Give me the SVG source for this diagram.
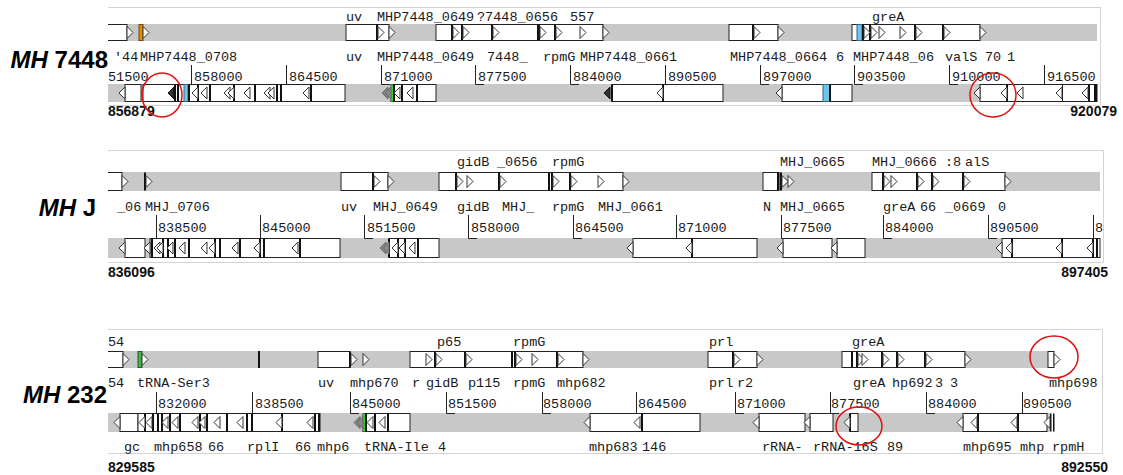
<svg xmlns="http://www.w3.org/2000/svg" xmlns:xlink="http://www.w3.org/1999/xlink" width="1123" height="475" viewBox="0 0 1123 475">
<style>
.bg{fill:#fff}
.fr{stroke:#d4d4d4;stroke-width:1;fill:none}
.trk{fill:#c8c8c8}
.g{fill:#fff;stroke:#222;stroke-width:1}
.th{fill:#111}
.ch{fill:#fff;stroke:#333;stroke-width:1}
.chd{fill:#333;stroke:#111;stroke-width:1}
.chg{fill:#888;stroke:#666;stroke-width:1}
.tk{stroke:#222;stroke-width:1;fill:none}
.lb{font-family:"Liberation Mono","Courier New",monospace;font-size:13.5px;fill:#1a1a1a}
.num{font-family:"Liberation Sans",Arial,sans-serif;font-weight:bold;font-size:14px;fill:#111}
.sp{font-family:"Liberation Sans",Arial,sans-serif;font-weight:bold;font-size:24px;fill:#000}
.circ{fill:none;stroke:#e01010;stroke-width:1.5}
</style>
<defs>
<path id="cr" d="M0,-6 L6,0 L0,6 Z"/>
<path id="cl" d="M0,-6 L-6,0 L0,6 Z"/>
<clipPath id="clp"><rect x="108" y="0" width="1000" height="475"/></clipPath>
</defs>
<rect class="bg" x="0" y="0" width="1123" height="475"/>

<!-- species labels -->
<g id="label-7448"><text class="sp" x="108" y="68" text-anchor="end"><tspan font-style="italic">MH</tspan> 7448</text></g>
<g id="label-J"><text class="sp" x="96" y="216" text-anchor="end"><tspan font-style="italic">MH</tspan> J</text></g>
<g id="label-232"><text class="sp" x="107" y="403" text-anchor="end"><tspan font-style="italic">MH</tspan> 232</text></g>

<!-- ================= PANEL 1 ================= -->
<g id="panel1" clip-path="url(#clp)">
<path class="fr" d="M108,7.5 H1100.5 V105.5 H108"/>
<rect class="trk" x="108" y="24" width="989" height="17"/>
<rect class="trk" x="108" y="84" width="989" height="18"/>
<g id="p1-top">
<rect class="g" x="105" y="24.5" width="22" height="16"/>
<rect x="139" y="24.5" width="4" height="16" fill="#e08c0c" stroke="#7a4a00"/>
<rect class="g" x="346" y="24.5" width="43" height="16"/>
<rect class="g" x="436" y="24.5" width="167" height="16"/>
<rect class="g" x="729" y="24.5" width="49" height="16"/>
<rect class="g" x="852" y="24.5" width="128" height="16"/>
<rect x="857" y="24.5" width="5" height="16" fill="#6ec6ea" stroke="#2a6a8a"/>
<g class="th">
<rect x="376" y="24.5" width="2" height="16"/><rect x="451" y="24.5" width="2" height="16"/><rect x="461" y="24.5" width="2" height="16"/><rect x="491" y="24.5" width="2" height="16"/><rect x="537" y="24.5" width="3" height="16"/><rect x="554" y="24.5" width="2" height="16"/><rect x="752" y="24.5" width="2" height="16"/><rect x="862" y="24.5" width="2" height="16"/><rect x="869" y="24.5" width="2" height="16"/><rect x="914" y="24.5" width="2" height="16"/><rect x="942" y="24.5" width="2" height="16"/>
</g>
<g class="ch">
<use xlink:href="#cr" x="127" y="32.5"/><use xlink:href="#cr" x="143" y="32.5"/><use xlink:href="#cr" x="378" y="32.5"/><use xlink:href="#cr" x="389" y="32.5"/><use xlink:href="#cr" x="453" y="32.5"/><use xlink:href="#cr" x="463" y="32.5"/><use xlink:href="#cr" x="493" y="32.5"/><use xlink:href="#cr" x="540" y="32.5"/><use xlink:href="#cr" x="556" y="32.5"/><use xlink:href="#cr" x="580" y="32.5"/><use xlink:href="#cr" x="603" y="32.5"/><use xlink:href="#cr" x="754" y="32.5"/><use xlink:href="#cr" x="778" y="32.5"/><use xlink:href="#cr" x="864" y="32.5"/><use xlink:href="#cr" x="871" y="32.5"/><use xlink:href="#cr" x="879" y="32.5"/><use xlink:href="#cr" x="900" y="32.5"/><use xlink:href="#cr" x="916" y="32.5"/><use xlink:href="#cr" x="944" y="32.5"/><use xlink:href="#cr" x="980" y="32.5"/>
</g>
</g>
<g id="p1-bottom">
<rect class="g" x="125" y="84.5" width="16" height="17"/>
<rect class="g" x="143" y="84.5" width="202" height="17"/>
<rect class="g" x="391" y="84.5" width="45" height="17"/>
<rect class="g" x="612" y="84.5" width="111" height="17"/>
<rect class="g" x="782" y="84.5" width="70" height="17"/>
<rect x="823" y="84.5" width="7" height="17" fill="#6ec6ea" stroke="#2a6a8a"/>
<rect class="g" x="980" y="84.5" width="117" height="17"/>
<rect x="184" y="84.5" width="4" height="17" fill="#6ec6ea" stroke="#2a6a8a"/>
<rect x="391" y="84.5" width="2" height="17" fill="#3c3"/>
<g class="th">
<rect x="174" y="84.5" width="2" height="17"/><rect x="177" y="84.5" width="2" height="17"/><rect x="188" y="84.5" width="2" height="17"/><rect x="197" y="84.5" width="2" height="17"/><rect x="209" y="84.5" width="2" height="17"/><rect x="233" y="84.5" width="2" height="17"/><rect x="254" y="84.5" width="2" height="17"/><rect x="276" y="84.5" width="2" height="17"/><rect x="280" y="84.5" width="2" height="17"/><rect x="310" y="84.5" width="2" height="17"/>
<rect x="393" y="84.5" width="2" height="17"/><rect x="401" y="84.5" width="2" height="17"/><rect x="416" y="84.5" width="2" height="17"/>
<rect x="611" y="84.5" width="2" height="17"/><rect x="662" y="84.5" width="2" height="17"/><rect x="829" y="84.5" width="2" height="17"/>
<rect x="1006" y="84.5" width="2" height="17"/><rect x="1088" y="84.5" width="2" height="17"/><rect x="1094" y="84.5" width="3" height="17"/>
</g>
<g class="ch">
<use xlink:href="#cl" x="125" y="93"/><use xlink:href="#cl" x="198" y="93"/><use xlink:href="#cl" x="207" y="93"/><use xlink:href="#cl" x="230" y="93"/><use xlink:href="#cl" x="234" y="93"/><use xlink:href="#cl" x="250" y="93"/><use xlink:href="#cl" x="270" y="93"/><use xlink:href="#cl" x="274" y="93"/><use xlink:href="#cl" x="309" y="93"/>
<use xlink:href="#cl" x="400" y="93"/><use xlink:href="#cl" x="413" y="93"/>
<use xlink:href="#cl" x="663" y="93"/><use xlink:href="#cl" x="782" y="93"/>
<use xlink:href="#cl" x="980" y="93"/><use xlink:href="#cl" x="1007" y="93"/><use xlink:href="#cl" x="1023" y="93"/><use xlink:href="#cl" x="1062" y="93"/><use xlink:href="#cl" x="1088" y="93"/>
</g>
<g class="chd"><use xlink:href="#cl" x="174" y="93"/><use xlink:href="#cl" x="610" y="93"/></g>
<g class="chg"><use xlink:href="#cl" x="388" y="93"/><use xlink:href="#cl" x="391" y="93"/></g>
<rect x="1062" y="84.5" width="1" height="17" fill="#222"/>
</g>
<g id="p1-text" class="lb">
<text x="346" y="21">uv</text><text x="377" y="21">MHP7448_0649</text><text x="477" y="21">?7448_0656</text><text x="570" y="21">557</text><text x="872" y="21">greA</text>
<text x="114" y="61">'44</text><text x="140" y="61">MHP7448_0708</text><text x="346" y="61">uv</text><text x="377" y="61">MHP7448_0649</text><text x="487" y="61">7448_</text><text x="543" y="61">rpmG</text><text x="580" y="61">MHP7448_0661</text><text x="730" y="61">MHP7448_0664</text><text x="836" y="61">6</text><text x="853" y="61">MHP7448_06</text><text x="945" y="61">valS</text><text x="985" y="61">70</text><text x="1007" y="61">1</text>
<text x="108" y="81">51500</text><text x="194" y="81">858000</text><text x="289" y="81">864500</text><text x="384" y="81">871000</text><text x="478" y="81">877500</text><text x="573" y="81">884000</text><text x="668" y="81">890500</text><text x="763" y="81">897000</text><text x="857" y="81">903500</text><text x="952" y="81">910000</text><text x="1047" y="81">916500</text>
</g>
<g id="p1-ticks" class="tk">
<path d="M191.5,65 V84.5 H200"/><path d="M286.5,65 V84.5 H295"/><path d="M381.5,65 V84.5 H390"/><path d="M475.5,65 V84.5 H484"/><path d="M570.5,65 V84.5 H579"/><path d="M665.5,65 V84.5 H674"/><path d="M760.5,65 V84.5 H769"/><path d="M854.5,65 V84.5 H863"/><path d="M949.5,65 V84.5 H958"/><path d="M1044.5,65 V84.5 H1053"/>
</g>
</g>
<g id="coords1">
<text class="num" x="108" y="116">856879</text>
<text class="num" x="1117" y="116" text-anchor="end">920079</text>
</g>

<!-- ================= PANEL 2 ================= -->
<g id="panel2" clip-path="url(#clp)">
<path class="fr" d="M108,150.5 H1103.5 V262.5 H108"/>
<rect class="trk" x="108" y="172" width="992" height="19"/>
<rect class="trk" x="108" y="238" width="992" height="20"/>
<g id="p2-top">
<rect class="g" x="105" y="172.5" width="17" height="18"/>
<rect class="g" x="341" y="172.5" width="47" height="18"/>
<rect class="g" x="439" y="172.5" width="184" height="18"/>
<rect class="g" x="763" y="172.5" width="16" height="18"/>
<rect class="g" x="872" y="172.5" width="133" height="18"/>
<g class="th">
<rect x="144" y="172.5" width="2" height="18"/><rect x="372" y="172.5" width="2" height="18"/><rect x="455" y="172.5" width="2" height="18"/><rect x="498" y="172.5" width="2" height="18"/><rect x="548" y="172.5" width="2" height="18"/><rect x="551" y="172.5" width="2" height="18"/><rect x="569" y="172.5" width="2" height="18"/><rect x="777" y="172.5" width="2" height="18"/><rect x="780" y="172.5" width="2" height="18"/><rect x="882" y="172.5" width="2" height="18"/><rect x="916" y="172.5" width="2" height="18"/><rect x="931" y="172.5" width="2" height="18"/><rect x="962" y="172.5" width="2" height="18"/>
</g>
<g class="ch">
<use xlink:href="#cr" x="122" y="181.5"/><use xlink:href="#cr" x="146" y="181.5"/><use xlink:href="#cr" x="374" y="181.5"/><use xlink:href="#cr" x="388" y="181.5"/><use xlink:href="#cr" x="457" y="181.5"/><use xlink:href="#cr" x="467" y="181.5"/><use xlink:href="#cr" x="500" y="181.5"/><use xlink:href="#cr" x="553" y="181.5"/><use xlink:href="#cr" x="571" y="181.5"/><use xlink:href="#cr" x="598" y="181.5"/><use xlink:href="#cr" x="623" y="181.5"/><use xlink:href="#cr" x="782" y="181.5"/><use xlink:href="#cr" x="788" y="181.5"/><use xlink:href="#cr" x="884" y="181.5"/><use xlink:href="#cr" x="891" y="181.5"/><use xlink:href="#cr" x="918" y="181.5"/><use xlink:href="#cr" x="933" y="181.5"/><use xlink:href="#cr" x="964" y="181.5"/><use xlink:href="#cr" x="1005" y="181.5"/>
</g>
</g>
<g id="p2-bottom">
<rect class="g" x="125" y="238.5" width="20" height="19"/>
<rect class="g" x="150" y="238.5" width="190" height="19"/>
<rect class="g" x="389" y="238.5" width="50" height="19"/>
<rect class="g" x="633" y="238.5" width="124" height="19"/>
<rect class="g" x="783" y="238.5" width="49" height="19"/>
<rect class="g" x="837" y="238.5" width="28" height="19"/>
<rect class="g" x="1002" y="238.5" width="98" height="19"/>
<g class="th">
<rect x="151" y="238.5" width="2" height="19"/><rect x="162" y="238.5" width="2" height="19"/><rect x="167" y="238.5" width="2" height="19"/><rect x="174" y="238.5" width="2" height="19"/><rect x="188" y="238.5" width="2" height="19"/><rect x="214" y="238.5" width="2" height="19"/><rect x="219" y="238.5" width="2" height="19"/><rect x="239" y="238.5" width="2" height="19"/><rect x="259" y="238.5" width="2" height="19"/><rect x="263" y="238.5" width="2" height="19"/><rect x="299" y="238.5" width="2" height="19"/>
<rect x="388" y="238.5" width="2" height="19"/><rect x="397" y="238.5" width="2" height="19"/><rect x="404" y="238.5" width="2" height="19"/><rect x="417" y="238.5" width="2" height="19"/>
<rect x="691" y="238.5" width="2" height="19"/>
<rect x="1011" y="238.5" width="2" height="19"/><rect x="1061" y="238.5" width="2" height="19"/><rect x="1092" y="238.5" width="2" height="19"/><rect x="1096" y="238.5" width="2" height="19"/>
</g>
<g class="ch">
<use xlink:href="#cl" x="125" y="248"/><use xlink:href="#cl" x="150" y="248"/><use xlink:href="#cl" x="160" y="248"/><use xlink:href="#cl" x="163" y="248"/><use xlink:href="#cl" x="173" y="248"/><use xlink:href="#cl" x="185" y="248"/><use xlink:href="#cl" x="207" y="248"/><use xlink:href="#cl" x="215" y="248"/><use xlink:href="#cl" x="238" y="248"/><use xlink:href="#cl" x="260" y="248"/><use xlink:href="#cl" x="298" y="248"/>
<use xlink:href="#cl" x="398" y="248"/><use xlink:href="#cl" x="405" y="248"/><use xlink:href="#cl" x="415" y="248"/>
<use xlink:href="#cl" x="633" y="248"/><use xlink:href="#cl" x="692" y="248"/><use xlink:href="#cl" x="783" y="248"/><use xlink:href="#cl" x="837" y="248"/>
<use xlink:href="#cl" x="1002" y="248"/><use xlink:href="#cl" x="1012" y="248"/><use xlink:href="#cl" x="1062" y="248"/><use xlink:href="#cl" x="1093" y="248"/>
</g>
<g class="chg"><use xlink:href="#cl" x="386" y="248"/><use xlink:href="#cl" x="389" y="248"/></g>
</g>
<g id="p2-text" class="lb">
<text x="457" y="166">gidB</text><text x="497" y="166">_0656</text><text x="552" y="166">rpmG</text><text x="780" y="166">MHJ_0665</text><text x="872" y="166">MHJ_0666</text><text x="945" y="166">:8</text><text x="965" y="166">alS</text>
<text x="117" y="211">_06</text><text x="145" y="211">MHJ_0706</text><text x="341" y="211">uv</text><text x="373" y="211">MHJ_0649</text><text x="457" y="211">gidB</text><text x="502" y="211">MHJ_</text><text x="552" y="211">rpmG</text><text x="598" y="211">MHJ_0661</text><text x="763" y="211">N</text><text x="780" y="211">MHJ_0665</text><text x="883" y="211">greA</text><text x="920" y="211">66</text><text x="945" y="211">_0669</text><text x="998" y="211">0</text>
<text x="158" y="232">838500</text><text x="262" y="232">845000</text><text x="367" y="232">851500</text><text x="471" y="232">858000</text><text x="575" y="232">864500</text><text x="678" y="232">871000</text><text x="783" y="232">877500</text><text x="885" y="232">884000</text><text x="990" y="232">890500</text><text x="1095" y="232">8</text>
</g>
<g id="p2-ticks" class="tk">
<path d="M156.5,215 V238.5 H165"/><path d="M260.5,215 V238.5 H269"/><path d="M364.5,215 V238.5 H373"/><path d="M468.5,215 V238.5 H477"/><path d="M573.5,215 V238.5 H582"/><path d="M676.5,215 V238.5 H685"/><path d="M781.5,215 V238.5 H790"/><path d="M883.5,215 V238.5 H892"/><path d="M988.5,215 V238.5 H997"/><path d="M1093.5,215 V238.5 H1100"/>
</g>
</g>
<g id="coords2">
<text class="num" x="108" y="277">836096</text>
<text class="num" x="1108" y="277" text-anchor="end">897405</text>
</g>

<!-- ================= PANEL 3 ================= -->
<g id="panel3" clip-path="url(#clp)">
<path class="fr" d="M108,329.5 H1102.5 V453.5 H108"/>
<rect class="trk" x="108" y="351" width="942" height="17"/>
<rect class="trk" x="108" y="413" width="942" height="19"/>
<g id="p3-top">
<rect class="g" x="105" y="351.5" width="18" height="16"/>
<rect x="138" y="351.5" width="4" height="16" fill="#4caf50" stroke="#1d5e20"/>
<rect x="258" y="351" width="2" height="17" fill="#111"/>
<rect class="g" x="318" y="351.5" width="32" height="16"/>
<rect class="g" x="410" y="351.5" width="173" height="16"/>
<rect class="g" x="708" y="351.5" width="49" height="16"/>
<rect class="g" x="842" y="351.5" width="123" height="16"/>
<rect class="g" x="1048" y="351.5" width="6" height="16"/>
<g class="th">
<rect x="349" y="351.5" width="2" height="16"/><rect x="434" y="351.5" width="2" height="16"/><rect x="464" y="351.5" width="2" height="16"/><rect x="511" y="351.5" width="2" height="16"/><rect x="514" y="351.5" width="2" height="16"/><rect x="556" y="351.5" width="2" height="16"/><rect x="732" y="351.5" width="2" height="16"/><rect x="851" y="351.5" width="2" height="16"/><rect x="856" y="351.5" width="2" height="16"/><rect x="881" y="351.5" width="2" height="16"/><rect x="896" y="351.5" width="2" height="16"/><rect x="924" y="351.5" width="2" height="16"/>
</g>
<g class="ch">
<use xlink:href="#cr" x="123" y="359.5"/><use xlink:href="#cr" x="142" y="359.5"/><use xlink:href="#cr" x="351" y="359.5"/><use xlink:href="#cr" x="363" y="359.5"/><use xlink:href="#cr" x="426" y="359.5"/><use xlink:href="#cr" x="436" y="359.5"/><use xlink:href="#cr" x="466" y="359.5"/><use xlink:href="#cr" x="516" y="359.5"/><use xlink:href="#cr" x="532" y="359.5"/><use xlink:href="#cr" x="558" y="359.5"/><use xlink:href="#cr" x="583" y="359.5"/><use xlink:href="#cr" x="734" y="359.5"/><use xlink:href="#cr" x="757" y="359.5"/><use xlink:href="#cr" x="858" y="359.5"/><use xlink:href="#cr" x="862" y="359.5"/><use xlink:href="#cr" x="883" y="359.5"/><use xlink:href="#cr" x="898" y="359.5"/><use xlink:href="#cr" x="926" y="359.5"/><use xlink:href="#cr" x="965" y="359.5"/><use xlink:href="#cr" x="1054" y="359.5"/>
</g>
</g>
<g id="p3-bottom">
<rect class="g" x="120" y="413.5" width="18" height="18"/>
<rect class="g" x="138" y="413.5" width="182" height="18"/>
<rect class="g" x="363" y="413.5" width="47" height="18"/>
<rect class="g" x="590" y="413.5" width="110" height="18"/>
<rect class="g" x="759" y="413.5" width="46" height="18"/>
<rect class="g" x="810" y="413.5" width="23" height="18"/>
<rect class="g" x="850" y="413.5" width="8" height="18"/>
<rect class="g" x="963" y="413.5" width="84" height="18"/>
<rect x="363" y="413.5" width="2" height="18" fill="#3c3"/>
<g class="th">
<rect x="144" y="413.5" width="2" height="18"/><rect x="152" y="413.5" width="2" height="18"/><rect x="157" y="413.5" width="2" height="18"/><rect x="161" y="413.5" width="2" height="18"/><rect x="169" y="413.5" width="2" height="18"/><rect x="179" y="413.5" width="2" height="18"/><rect x="199" y="413.5" width="2" height="18"/><rect x="206" y="413.5" width="2" height="18"/><rect x="226" y="413.5" width="2" height="18"/><rect x="246" y="413.5" width="2" height="18"/><rect x="251" y="413.5" width="2" height="18"/><rect x="281" y="413.5" width="2" height="18"/><rect x="314" y="413.5" width="2" height="18"/><rect x="318" y="413.5" width="2" height="18"/>
<rect x="365" y="413.5" width="2" height="18"/><rect x="374" y="413.5" width="2" height="18"/><rect x="387" y="413.5" width="2" height="18"/>
<rect x="641" y="413.5" width="2" height="18"/><rect x="849" y="413.5" width="2" height="18"/>
<rect x="977" y="413.5" width="2" height="18"/><rect x="1017" y="413.5" width="2" height="18"/><rect x="1050" y="413.5" width="1.5" height="18"/><rect x="1053" y="413.5" width="1.5" height="18"/>
</g>
<g class="ch">
<use xlink:href="#cl" x="120" y="422.5"/><use xlink:href="#cl" x="145" y="422.5"/><use xlink:href="#cl" x="152" y="422.5"/><use xlink:href="#cl" x="168" y="422.5"/><use xlink:href="#cl" x="178" y="422.5"/><use xlink:href="#cl" x="198" y="422.5"/><use xlink:href="#cl" x="205" y="422.5"/><use xlink:href="#cl" x="220" y="422.5"/><use xlink:href="#cl" x="243" y="422.5"/><use xlink:href="#cl" x="282" y="422.5"/><use xlink:href="#cl" x="313" y="422.5"/>
<use xlink:href="#cl" x="373" y="422.5"/><use xlink:href="#cl" x="385" y="422.5"/>
<use xlink:href="#cl" x="590" y="422.5"/><use xlink:href="#cl" x="640" y="422.5"/><use xlink:href="#cl" x="759" y="422.5"/><use xlink:href="#cl" x="810" y="422.5"/><use xlink:href="#cl" x="850" y="422.5"/>
<use xlink:href="#cl" x="963" y="422.5"/><use xlink:href="#cl" x="977" y="422.5"/><use xlink:href="#cl" x="1017" y="422.5"/><use xlink:href="#cl" x="1050" y="422.5"/>
</g>
<g class="chg"><use xlink:href="#cl" x="360" y="422.5"/><use xlink:href="#cl" x="363" y="422.5"/></g>
</g>
<g id="p3-text" class="lb">
<text x="108" y="346">54</text><text x="437" y="346">p65</text><text x="513" y="346">rpmG</text><text x="709" y="346">prl</text><text x="852" y="346">greA</text>
<text x="108" y="387">54</text><text x="137" y="387">tRNA-Ser3</text><text x="318" y="387">uv</text><text x="350" y="387">mhp670</text><text x="412" y="387">r</text><text x="426" y="387">gidB</text><text x="468" y="387">p115</text><text x="513" y="387">rpmG</text><text x="557" y="387">mhp682</text><text x="709" y="387">prl</text><text x="737" y="387">r2</text><text x="853" y="387">greA</text><text x="892" y="387">hp692</text><text x="935" y="387">3</text><text x="950" y="387">3</text><text x="1049" y="387">mhp698</text>
<text x="158" y="408">832000</text><text x="255" y="408">838500</text><text x="352" y="408">845000</text><text x="448" y="408">851500</text><text x="543" y="408">858000</text><text x="638" y="408">864500</text><text x="737" y="408">871000</text><text x="831" y="408">877500</text><text x="928" y="408">884000</text><text x="1023" y="408">890500</text>
<text x="124" y="451">gc</text><text x="154" y="451">mhp658</text><text x="208" y="451">66</text><text x="247" y="451">rplI</text><text x="295" y="451">66</text><text x="317" y="451">mhp6</text><text x="364" y="451">tRNA-Ile</text><text x="438" y="451">4</text><text x="589" y="451">mhp683</text><text x="642" y="451">146</text><text x="762" y="451">rRNA-</text><text x="813" y="451">rRNA-16S</text><text x="887" y="451">89</text><text x="963" y="451">mhp695</text><text x="1020" y="451">mhp</text><text x="1052" y="451">rpmH</text>
</g>
<g id="p3-ticks" class="tk">
<path d="M156.5,392 V413.5 H165"/><path d="M252.5,392 V413.5 H261"/><path d="M350.5,392 V413.5 H359"/><path d="M446.5,392 V413.5 H455"/><path d="M542.5,392 V413.5 H551"/><path d="M636.5,392 V413.5 H645"/><path d="M735.5,392 V413.5 H744"/><path d="M830.5,392 V413.5 H839"/><path d="M926.5,392 V413.5 H935"/><path d="M1022.5,392 V413.5 H1031"/>
</g>
</g>
<g id="coords3">
<text class="num" x="108" y="472">829585</text>
<text class="num" x="1108" y="472" text-anchor="end">892550</text>
</g>

<!-- red circles -->
<g id="highlights">
<ellipse class="circ" cx="162" cy="95" rx="20" ry="22"/>
<ellipse class="circ" cx="993" cy="95" rx="23" ry="22"/>
<ellipse class="circ" cx="1054" cy="357" rx="24" ry="21"/>
<ellipse class="circ" cx="859" cy="426" rx="23" ry="19"/>
</g>
</svg>
